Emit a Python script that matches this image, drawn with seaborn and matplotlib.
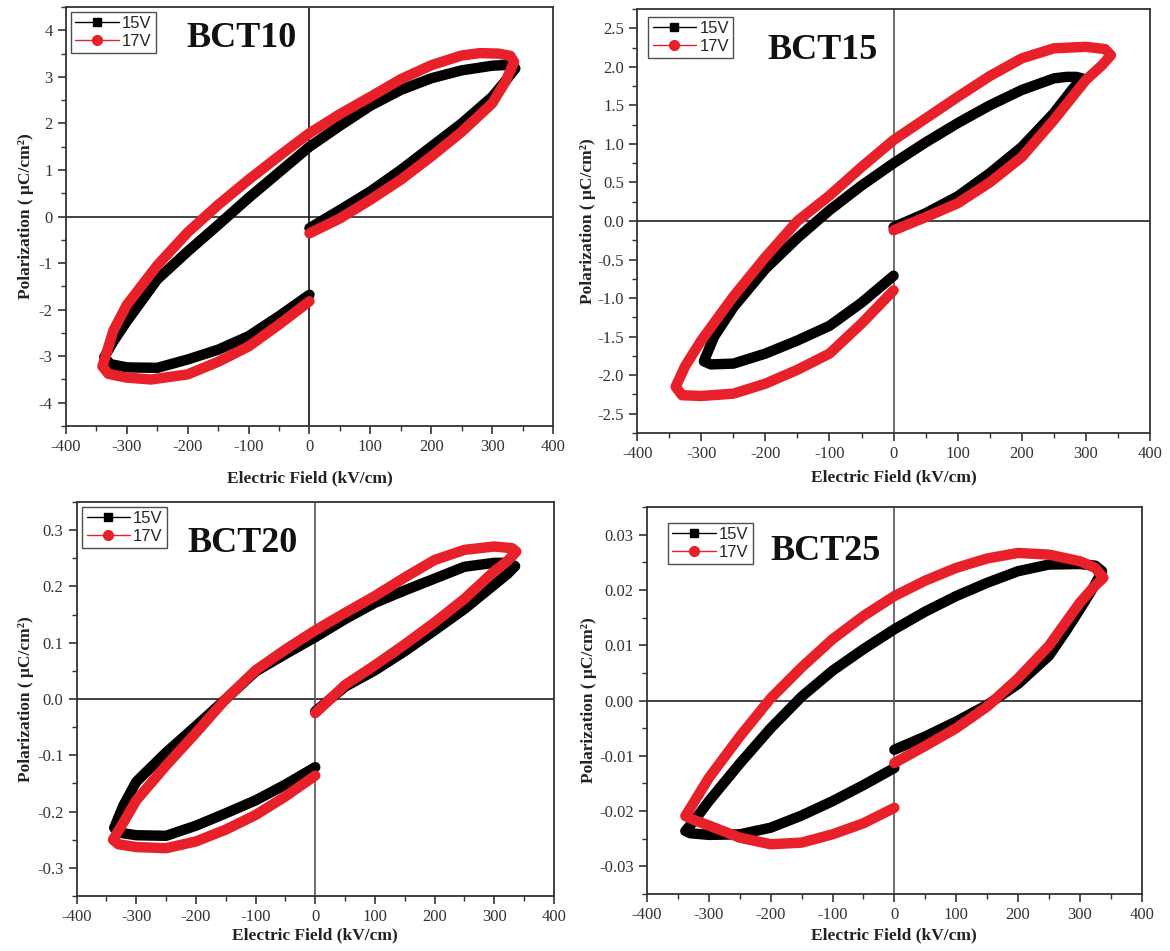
import matplotlib
matplotlib.use("Agg")
import matplotlib.pyplot as plt
from matplotlib.lines import Line2D
from matplotlib.ticker import MultipleLocator
import seaborn as sns
import pandas as pd

# ---------------- data ----------------
series_labels = ["15V", "17V"]
panel_names = ["BCT10", "BCT15", "BCT20", "BCT25"]

bct10_e_15 = [0, 50, 100, 150, 200, 250, 300, 326, 338, 330, 300, 250, 200, 150, 100, 50, 0, -50, -100, -150, -200, -250, -300, -322, -337, -327, -300, -250, -200, -150, -100, -50, 0]
bct10_p_15 = [-0.25, 0.14, 0.54, 1.00, 1.50, 2.00, 2.57, 2.98, 3.18, 3.26, 3.24, 3.14, 2.97, 2.72, 2.38, 1.95, 1.50, 0.95, 0.40, -0.18, -0.75, -1.35, -2.25, -2.68, -3.02, -3.17, -3.24, -3.25, -3.07, -2.86, -2.57, -2.14, -1.68]
bct10_e_17 = [0, 50, 100, 150, 200, 250, 300, 322, 336, 330, 310, 280, 250, 200, 150, 100, 50, 0, -50, -100, -150, -200, -250, -300, -322, -340, -330, -300, -260, -200, -150, -100, -50, 0]
bct10_p_17 = [-0.36, -0.04, 0.36, 0.79, 1.29, 1.82, 2.43, 2.90, 3.32, 3.45, 3.50, 3.51, 3.46, 3.25, 2.95, 2.57, 2.20, 1.79, 1.30, 0.79, 0.25, -0.34, -1.05, -1.90, -2.45, -3.22, -3.38, -3.46, -3.50, -3.39, -3.12, -2.79, -2.32, -1.82]

bct15_e_15 = [0, 50, 100, 150, 200, 250, 280, 294, 285, 270, 250, 200, 150, 100, 50, 0, -50, -100, -150, -200, -250, -280, -296, -285, -250, -200, -150, -100, -50, 0]
bct15_p_15 = [-0.08, 0.10, 0.32, 0.62, 0.96, 1.40, 1.72, 1.85, 1.87, 1.87, 1.85, 1.70, 1.50, 1.27, 1.02, 0.75, 0.46, 0.14, -0.22, -0.62, -1.12, -1.50, -1.82, -1.86, -1.85, -1.72, -1.55, -1.36, -1.06, -0.71]
bct15_e_17 = [0, 50, 100, 150, 200, 250, 300, 325, 339, 330, 300, 250, 200, 150, 100, 50, 0, -50, -100, -150, -200, -250, -300, -325, -340, -330, -300, -250, -200, -150, -100, -50, 0]
bct15_p_17 = [-0.12, 0.05, 0.23, 0.50, 0.83, 1.31, 1.83, 2.02, 2.15, 2.23, 2.26, 2.24, 2.11, 1.88, 1.61, 1.33, 1.05, 0.70, 0.33, 0.00, -0.47, -0.98, -1.55, -1.88, -2.15, -2.26, -2.27, -2.24, -2.11, -1.93, -1.72, -1.33, -0.90]

bct20_e_15 = [0, 50, 100, 150, 200, 250, 300, 322, 335, 325, 300, 250, 200, 150, 100, 50, 0, -50, -100, -150, -200, -250, -300, -322, -337, -325, -300, -250, -200, -150, -100, -50, 0]
bct20_p_15 = [-0.022, 0.022, 0.051, 0.085, 0.122, 0.160, 0.203, 0.222, 0.236, 0.242, 0.242, 0.235, 0.214, 0.193, 0.171, 0.142, 0.110, 0.080, 0.049, 0.000, -0.048, -0.095, -0.147, -0.190, -0.229, -0.238, -0.242, -0.243, -0.225, -0.203, -0.180, -0.152, -0.121]
bct20_e_17 = [0, 50, 100, 150, 200, 250, 300, 322, 337, 330, 300, 250, 200, 150, 100, 50, 0, -50, -100, -150, -200, -250, -300, -322, -339, -330, -300, -250, -200, -150, -100, -50, 0]
bct20_p_17 = [-0.025, 0.025, 0.060, 0.097, 0.136, 0.178, 0.227, 0.245, 0.262, 0.268, 0.271, 0.265, 0.247, 0.216, 0.183, 0.153, 0.122, 0.088, 0.051, 0.000, -0.060, -0.118, -0.180, -0.220, -0.250, -0.258, -0.263, -0.265, -0.253, -0.232, -0.206, -0.173, -0.136]

bct25_e_15 = [0, 50, 100, 150, 200, 250, 277, 300, 322, 336, 325, 300, 250, 200, 150, 100, 50, 0, -50, -100, -150, -200, -250, -300, -322, -338, -330, -300, -250, -200, -150, -100, -50, 0]
bct25_p_15 = [-0.0089, -0.0065, -0.0038, -0.0008, 0.0030, 0.0081, 0.0125, 0.0165, 0.0205, 0.0234, 0.0244, 0.0247, 0.0246, 0.0234, 0.0213, 0.0189, 0.0161, 0.0129, 0.0093, 0.0054, 0.0007, -0.0050, -0.0114, -0.0182, -0.0215, -0.0236, -0.0240, -0.0243, -0.0242, -0.0230, -0.0208, -0.0182, -0.0153, -0.0122]
bct25_e_17 = [0, 50, 100, 150, 200, 250, 300, 322, 338, 325, 300, 250, 200, 150, 100, 50, 0, -50, -100, -150, -200, -250, -300, -322, -338, -320, -300, -250, -200, -150, -100, -50, 0]
bct25_p_17 = [-0.0113, -0.0082, -0.0050, -0.0011, 0.0040, 0.0099, 0.0177, 0.0205, 0.0222, 0.0240, 0.0252, 0.0264, 0.0267, 0.0257, 0.0240, 0.0217, 0.0189, 0.0153, 0.0111, 0.0060, 0.0004, -0.0065, -0.0140, -0.0180, -0.0209, -0.0218, -0.0226, -0.0248, -0.0260, -0.0257, -0.0242, -0.0222, -0.0194]

y_limits = [4.5, 2.75, 0.35, 0.035]
y_major = [1, 0.5, 0.1, 0.01]
y_fmt = ["{:.0f}", "{:.1f}", "{:.1f}", "{:.2f}"]

# ---------------- styling ----------------
sns.set_style("ticks")
plt.rcParams["font.family"] = ["Liberation Serif", "DejaVu Serif"]
plt.rcParams["axes.unicode_minus"] = False

fig = plt.figure(figsize=(11.7, 9.51), dpi=100)

positions = [
    [0.0563, 0.552, 0.4164, 0.4406],
    [0.5446, 0.5447, 0.4383, 0.4458],
    [0.0655, 0.0578, 0.4079, 0.4143],
    [0.5530, 0.0599, 0.4228, 0.4069],
]
title_xy = [(0.36, 0.926), (0.361, 0.903), (0.347, 0.896), (0.362, 0.884)]
legend_xy = [(0.011, 0.988), (0.022, 0.981), (0.012, 0.987), (0.043, 0.959)]
xlabel_y = [-0.124, -0.104, -0.099, -0.108]
ylabel_x = [-0.082, -0.095, -0.107, -0.118]
zero_v_colors = ["#111111", "#555555", "#555555", "#555555"]

data = [
    (bct10_e_15, bct10_p_15, bct10_e_17, bct10_p_17),
    (bct15_e_15, bct15_p_15, bct15_e_17, bct15_p_17),
    (bct20_e_15, bct20_p_15, bct20_e_17, bct20_p_17),
    (bct25_e_15, bct25_p_15, bct25_e_17, bct25_p_17),
]

colors = ["#000000", "#e8202a"]

for i in range(4):
    ax = fig.add_axes(positions[i])
    e15, p15, e17, p17 = data[i]
    ax.axhline(0, color="#222222", lw=1.2, zorder=1)
    ax.axvline(0, color=zero_v_colors[i], lw=1.2, zorder=1)
    for (ex, py, col) in [(e15, p15, colors[0]), (e17, p17, colors[1])]:
        df = pd.DataFrame({"E": ex, "P": py})
        sns.lineplot(data=df, x="E", y="P", sort=False, estimator=None,
                     color=col, linewidth=7.5, ax=ax, legend=False, zorder=3,
                     solid_capstyle="round", solid_joinstyle="round")
    ax.set_xlim(-400, 400)
    lim = y_limits[i]
    ax.set_ylim(-lim, lim)
    ax.xaxis.set_major_locator(MultipleLocator(100))
    ax.xaxis.set_minor_locator(MultipleLocator(50))
    ax.yaxis.set_major_locator(MultipleLocator(y_major[i]))
    ax.yaxis.set_minor_locator(MultipleLocator(y_major[i] / 2))
    fmt = y_fmt[i]
    ax.yaxis.set_major_formatter(plt.FuncFormatter(lambda v, p, f=fmt: f.format(v + 0.0)))
    ax.tick_params(which="major", direction="out", length=6, width=1.2,
                   labelsize=12, labelcolor="#333333", color="#333333")
    ax.tick_params(which="minor", direction="out", length=3.5, width=1.0, color="#333333")
    for s in ax.spines.values():
        s.set_linewidth(1.3)
        s.set_color("#333333")
    ax.set_xlabel("Electric Field (kV/cm)", fontsize=12.5, fontweight="bold", color="#222222")
    ax.set_ylabel("Polarization ( μC/cm²)", fontsize=12.5, fontweight="bold", color="#222222")
    ax.xaxis.label.set_va("center")
    ax.yaxis.label.set_va("center")
    ax.xaxis.set_label_coords(0.5, xlabel_y[i])
    ax.yaxis.set_label_coords(ylabel_x[i], 0.5)
    ax.text(title_xy[i][0], title_xy[i][1], panel_names[i], transform=ax.transAxes,
            ha="center", va="center", fontsize=26, fontweight="bold", color="#111111")
    handles = [
        Line2D([0], [0], color=colors[0], lw=1, marker="s", markersize=6),
        Line2D([0], [0], color=colors[1], lw=1, marker="o", markersize=7),
    ]
    leg = ax.legend(handles, series_labels, loc="upper left",
                    bbox_to_anchor=legend_xy[i], borderaxespad=0,
                    prop={"family": "Liberation Sans", "size": 12},
                    frameon=True, fancybox=False, handlelength=2.6,
                    handletextpad=0.2, borderpad=0.25, labelspacing=0.15)
    leg.get_frame().set_edgecolor("#222222")
    leg.get_frame().set_linewidth(1.0)

fig.savefig("out.png", dpi=100)
